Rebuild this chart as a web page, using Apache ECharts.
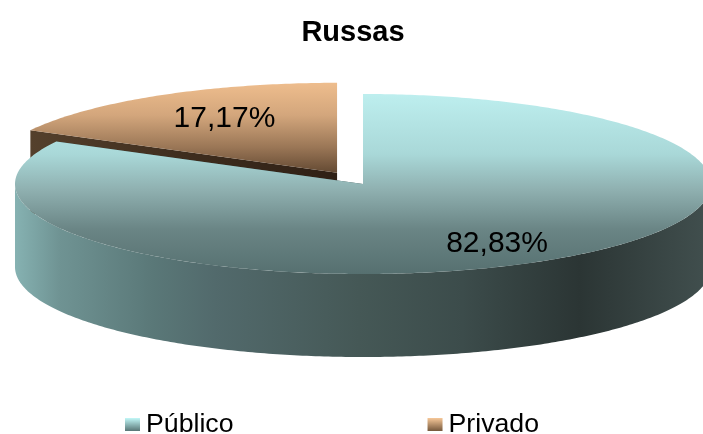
<!DOCTYPE html>
<html><head><meta charset="utf-8">
<style>html,body{margin:0;padding:0;background:#fff}#c{width:703px;height:434px}</style>
<script src="https://cdn.jsdelivr.net/npm/echarts@6/dist/echarts.min.js"></script>
</head><body><div id="c"></div>
<script>
const chartTitle = 'Russas';
const categories = ['Público', 'Privado'];
const shares = [82.83, 17.17];
const explodes = [0, 0.145];
const total = shares.reduce((a, b) => a + b, 0);

const CX = 363, CY = 184, RX = 348, RY = 90, DEPTH = 83;
const FONT = '"Liberation Sans", Arial, sans-serif';
const G = (x0, y0, x1, y1, stops) => new echarts.graphic.LinearGradient(
  x0, y0, x1, y1, stops.map(s => ({ offset: s[0], color: s[1] })), true);

const styles = [
  {
    top: G(0, 95, 0, 274, [[0, '#bdeeee'], [0.33, '#a9d8d8'], [0.53, '#8fb0b0'], [0.75, '#6a8585'], [1, '#567070']]),
    wall: G(15, 0, 703, 0, [[0, '#86b2b2'], [0.065, '#6f9393'], [0.2, '#5a7878'], [0.29, '#526a6c'], [0.5, '#455856'], [0.65, '#3c4c4b'], [0.82, '#2b3534'], [1, '#404e4d']]),
    cut: '#3d4f4e', legend: [[0, '#c2f8f8'], [1, '#587676']],
    labelShift: [0.75, 0.77]
  },
  {
    top: G(0, 83, 0, 175, [[0, '#eebd8d'], [0.35, '#d3a67c'], [0.7, '#9a7656'], [1, '#5f4630']]),
    wall: '#4a3525', cut: G(31, 0, 337, 0, [[0, '#54402c'], [0.5, '#3e2d1e'], [1, '#2f2015']]),
    legend: [[0, '#f7c899'], [1, '#75583c']],
    labelShift: [0.63, 0.70]
  }
];

function renderSlice(index) {
  return function (params, api) {
    const value = api.value(0);
    const before = shares.slice(0, index).reduce((a, b) => a + b, 0);
    const a0 = before / total * 2 * Math.PI;
    const a1 = (before + value) / total * 2 * Math.PI;
    const mid = (a0 + a1) / 2;
    const cx = CX + Math.sin(mid) * RX * explodes[index];
    const cy = CY - Math.cos(mid) * RY * explodes[index];
    const pt = (t, d) => [cx + RX * Math.sin(t), cy - RY * Math.cos(t) + (d || 0)];
    const arc = (s, e, d) => {
      const n = Math.max(2, Math.ceil(Math.abs(e - s) * 80)), out = [];
      for (let i = 0; i <= n; i++) out.push(pt(s + (e - s) * i / n, d));
      return out;
    };
    const st = styles[index];
    const kids = [];
    // cut faces
    [a0, a1].forEach(a => {
      const p = pt(a);
      kids.push({ type: 'polygon', shape: { points: [[cx, cy], p, [p[0], p[1] + DEPTH], [cx, cy + DEPTH]] }, style: { fill: st.cut } });
    });
    // outer wall, visible on the front half only
    const ws = Math.max(a0, Math.PI / 2), we = Math.min(a1, 3 * Math.PI / 2);
    if (we > ws) {
      kids.push({ type: 'polygon', shape: { points: arc(ws, we, 0).concat(arc(we, ws, DEPTH)) }, style: { fill: st.wall } });
    }
    // top face
    kids.push({ type: 'polygon', shape: { points: [[cx, cy]].concat(arc(a0, a1, 0)) }, style: { fill: st.top } });
    // value label
    kids.push({
      type: 'text', z2: 10,
      style: {
        x: cx + Math.sin(mid) * RX * st.labelShift[0],
        y: cy - Math.cos(mid) * RY * st.labelShift[1],
        text: value.toFixed(2).replace('.', ',') + '%',
        fill: '#000', font: '30px ' + FONT, align: 'center', verticalAlign: 'middle'
      }
    });
    return { type: 'group', children: kids };
  };
}

const chart = echarts.init(document.getElementById('c'), null, { renderer: 'canvas' });
chart.setOption({
  animation: false,
  backgroundColor: '#fff',
  title: {
    text: chartTitle, left: 348, textAlign: 'center', top: 13,
    textStyle: { fontFamily: FONT, fontSize: 29, fontWeight: 'bold', color: '#000' }
  },
  legend: {
    left: 120, top: 406, padding: 5, itemWidth: 15, itemHeight: 13, itemGap: 194,
    icon: 'rect',
    textStyle: { fontFamily: FONT, fontSize: 26.7, color: '#000', padding: [0, 0, 0, 1] },
    data: categories.map((name, i) => ({
      name,
      itemStyle: { color: new echarts.graphic.LinearGradient(0, 0, 0, 1, styles[i].legend.map(s => ({ offset: s[0], color: s[1] }))) }
    }))
  },
  series: categories.map((name, i) => ({
    type: 'custom', name, coordinateSystem: 'none', silent: true,
    z: categories.length * 2 - i,
    data: [[shares[i]]],
    renderItem: renderSlice(i)
  }))
});
</script></body></html>
